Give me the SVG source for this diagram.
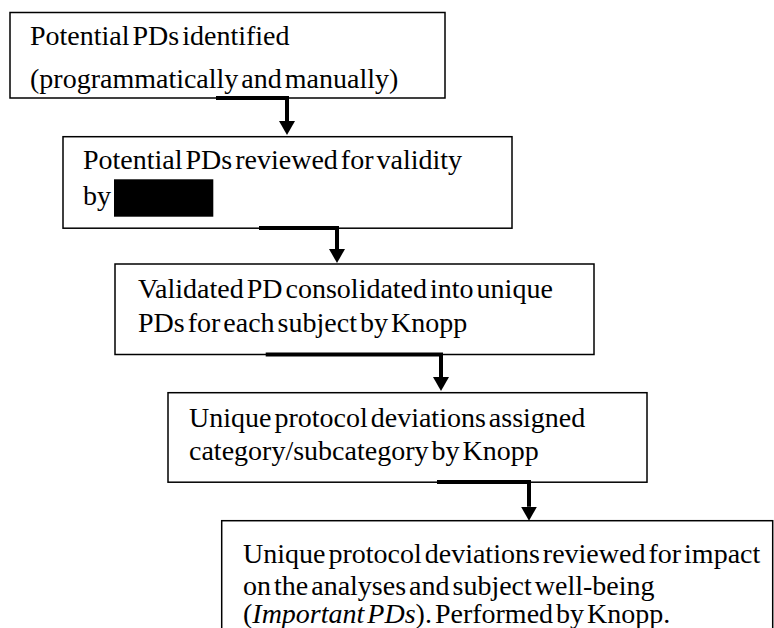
<svg xmlns="http://www.w3.org/2000/svg" width="774" height="628" viewBox="0 0 774 628">
<defs>
<marker id="ah" markerUnits="userSpaceOnUse" markerWidth="14" markerHeight="16" viewBox="0 -8 14 16" refX="0" refY="0" orient="auto">
<path d="M0,-8 L14,0 L0,8 z" fill="#000"/>
</marker>
<style>
.box{fill:#fff;stroke:#000;stroke-width:1.5}
.c{fill:none;stroke:#000;stroke-width:4}
</style>
</defs>
<rect width="774" height="628" fill="#fff"/>
<g font-family="Liberation Serif" font-size="28" word-spacing="-4" fill="#000">
<g id="n1">
<rect class="box" x="10" y="12.5" width="435" height="85.5"/>
<text x="30" y="45">Potential PDs identified</text>
<text x="30" y="88">(programmatically and manually)</text>
</g>
<g id="n2">
<rect class="box" x="63" y="136.7" width="449" height="91.5"/>
<text x="83" y="169">Potential PDs reviewed for validity</text>
<text x="83" y="204.5">by</text>
<rect x="114" y="179.3" width="99.3" height="37.4" fill="#000"/>
</g>
<g id="n3">
<rect class="box" x="115" y="264" width="479" height="90.5"/>
<text x="138" y="297.5">Validated PD consolidated into unique</text>
<text x="138" y="331.5">PDs for each subject by Knopp</text>
</g>
<g id="n4">
<rect class="box" x="168" y="392.7" width="479" height="89.5"/>
<text x="189" y="426.7">Unique protocol deviations assigned</text>
<text x="189" y="460">category/subcategory by Knopp</text>
</g>
<g id="n5">
<rect class="box" x="221.7" y="520.7" width="551" height="120"/>
<text x="243" y="563.3">Unique protocol deviations reviewed for impact</text>
<text x="243" y="595">on the analyses and subject well-being</text>
<text x="243" y="623">(<tspan font-style="italic">Important PDs</tspan>). Performed by Knopp.</text>
</g>
</g>
<g id="connectors">
<path class="c" d="M216,98 H287 V121" marker-end="url(#ah)"/>
<path class="c" d="M259,228 H337 V249" marker-end="url(#ah)"/>
<path class="c" d="M265.7,354.5 H441 V377" marker-end="url(#ah)"/>
<path class="c" d="M437,482 H529 V506.7" marker-end="url(#ah)"/>
</g>
</svg>
